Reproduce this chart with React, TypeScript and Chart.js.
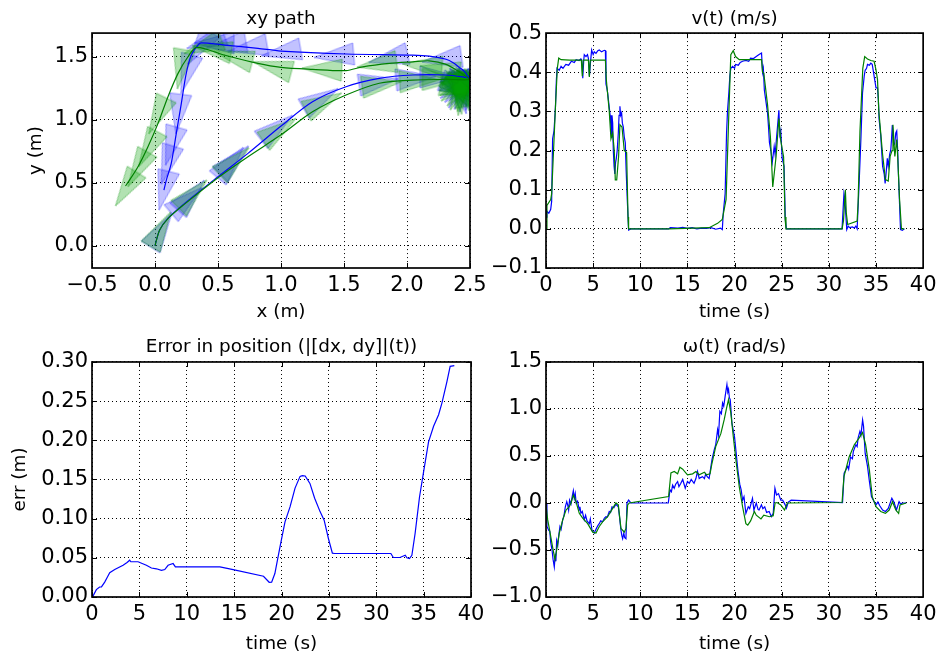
import React, { useEffect, useRef } from 'react';
import { Chart, registerables } from 'chart.js';
Chart.register(...registerables);

const W = 941;
const H = 655;
const FONT = "'DejaVu Sans', sans-serif";

// ---------- tick values ----------
const xyXTicks = [-0.5, 0, 0.5, 1, 1.5, 2, 2.5];
const xyYTicks = [0, 0.5, 1, 1.5];
const timeTicks = [0, 5, 10, 15, 20, 25, 30, 35, 40];
const vTicks = [-0.1, 0, 0.1, 0.2, 0.3, 0.4, 0.5];
const errTicks = [0, 0.05, 0.1, 0.15, 0.2, 0.25, 0.3];
const wTicks = [-1, -0.5, 0, 0.5, 1, 1.5];

// ---------- xy path (m) ----------
const blueXY = [[0,0],[0.037,0.125],[0.103,0.217],[0.235,0.336],[0.5,0.548],[0.738,0.733],[1.0,0.95],[1.25,1.143],[1.516,1.262],[1.78,1.328],[2.045,1.355],[2.31,1.355],[2.48,1.335],[2.5,1.33],[2.48,1.35],[2.45,1.39],[2.415,1.415],[2.37,1.45],[2.31,1.48],[2.177,1.505],[2.045,1.513],[1.516,1.522],[1.0,1.545],[0.817,1.567],[0.552,1.593],[0.367,1.611],[0.341,1.593],[0.288,1.513],[0.248,1.368],[0.209,1.13],[0.169,0.892],[0.129,0.654],[0.09,0.521],[0.071,0.442]];
const greenXY = [[0,0],[0.037,0.125],[0.103,0.215],[0.235,0.33],[0.5,0.54],[0.738,0.707],[1.0,0.88],[1.25,1.063],[1.516,1.196],[1.78,1.29],[2.045,1.315],[2.31,1.32],[2.5,1.32],[2.46,1.35],[2.415,1.38],[2.31,1.44],[2.177,1.468],[2.045,1.46],[1.86,1.447],[1.648,1.42],[1.516,1.39],[1.25,1.40],[1.0,1.416],[0.817,1.447],[0.552,1.513],[0.33,1.575],[0.262,1.5],[0.183,1.368],[0.103,1.183],[0.024,0.971],[-0.056,0.786],[-0.135,0.627],[-0.228,0.482],[-0.235,0.475]];
// pose markers: [x, y, heading deg]
const blueArrows = [[0.05,0.125,58],[0.25,0.36,40],[0.288,0.40,49],[0.60,0.66,50],[0.63,0.68,45],[0.967,0.938,38],[1.317,1.168,30],[1.776,1.30,9],[2.07,1.33,5],[2.26,1.34,0],[2.42,1.26,-20],[2.43,1.24,-50],[2.44,1.23,-80],[2.43,1.23,-110],[2.42,1.24,-140],[2.41,1.26,-170],[2.42,1.28,160],[2.44,1.29,130],[2.43,1.21,-60],[2.42,1.22,-90],[2.41,1.23,-120],[2.44,1.25,-30],[2.40,1.25,-150],[2.43,1.20,-75],[2.276,1.48,188],[1.85,1.49,193],[1.419,1.508,185],[1.0,1.535,190],[0.733,1.569,190],[0.566,1.593,190],[0.47,1.61,180],[0.40,1.62,200],[0.35,1.57,235],[0.25,1.36,-106],[0.185,1.045,-97],[0.127,0.79,-106],[0.096,0.64,-107],[0.07,0.436,-104]];
const greenArrows = [[0.045,0.13,60],[0.30,0.41,45],[0.63,0.67,43],[0.99,0.92,35],[1.34,1.14,27],[1.80,1.28,8],[2.10,1.31,3],[2.28,1.32,0],[2.42,1.25,-10],[2.43,1.23,-40],[2.44,1.22,-70],[2.43,1.22,-100],[2.42,1.23,-130],[2.41,1.25,-160],[2.42,1.27,170],[2.43,1.28,140],[2.44,1.26,100],[2.42,1.20,-85],[2.43,1.21,-55],[2.41,1.22,-115],[2.40,1.24,-145],[2.44,1.24,-25],[2.42,1.19,-95],[2.26,1.40,170],[2.12,1.43,175],[1.76,1.44,188],[1.324,1.402,177],[0.93,1.42,165],[0.62,1.50,165],[0.45,1.56,170],[0.38,1.58,200],[0.205,1.40,-100],[0.02,1.03,-116],[-0.056,0.766,-118],[-0.138,0.607,-119],[-0.23,0.45,-122]];

// ---------- v(t) (m/s) ----------
const vRef = [[0,0],[0.1,0.06],[0.5,0.075],[0.6,0.09],[0.8,0.2],[1.0,0.31],[1.2,0.41],[1.35,0.436],[1.6,0.432],[2.5,0.431],[3.75,0.431],[3.85,0.39],[3.95,0.431],[4.5,0.431],[4.6,0.388],[4.7,0.431],[6.3,0.431],[6.4,0.38],[6.71,0.30],[6.89,0.23],[7.07,0.245],[7.24,0.20],[7.35,0.125],[7.5,0.125],[7.7,0.185],[7.84,0.266],[8.06,0.26],[8.3,0.20],[8.55,0.195],[8.7,0.03],[8.76,0],[13,0],[17.3,0.003],[18.2,0.014],[18.7,0.024],[18.9,0.05],[19.1,0.075],[19.4,0.30],[19.6,0.445],[19.86,0.455],[20.1,0.44],[20.5,0.432],[22.86,0.432],[22.97,0.40],[23.1,0.397],[23.5,0.316],[23.8,0.235],[24.05,0.107],[24.4,0.184],[24.7,0.282],[24.9,0.225],[25.2,0.184],[25.35,0.03],[25.45,0],[31.4,0],[31.55,0.02],[31.75,0.10],[31.85,0.04],[32.0,0.011],[33.0,0.02],[33.1,0.066],[33.3,0.25],[33.6,0.41],[33.8,0.44],[34.1,0.434],[34.45,0.43],[34.8,0.428],[35.0,0.406],[35.16,0.381],[35.3,0.30],[35.7,0.19],[36.0,0.126],[36.3,0.122],[36.5,0.185],[36.7,0.20],[36.8,0.266],[37.0,0.185],[37.2,0.228],[37.3,0.185],[37.5,0.075],[37.7,0],[38.0,0]];
const vMeas = [[0,0.03],[0.1,0.045],[0.3,0.04],[0.5,0.05],[0.6,0.07],[0.7,0.23],[0.85,0.25],[1.0,0.31],[1.1,0.38],[1.17,0.41],[1.4,0.405],[1.6,0.415],[1.8,0.41],[2.1,0.42],[2.4,0.418],[2.7,0.428],[3.0,0.425],[3.2,0.432],[3.5,0.43],[3.7,0.434],[3.8,0.43],[3.9,0.385],[4.0,0.43],[4.06,0.445],[4.24,0.44],[4.4,0.445],[4.5,0.435],[4.6,0.39],[4.7,0.42],[4.84,0.457],[5.0,0.445],[5.12,0.452],[5.3,0.448],[5.5,0.455],[5.65,0.457],[5.9,0.452],[6.18,0.456],[6.3,0.455],[6.36,0.37],[6.45,0.36],[6.54,0.347],[6.71,0.31],[6.8,0.29],[6.89,0.26],[6.95,0.235],[7.0,0.29],[7.07,0.27],[7.14,0.20],[7.22,0.16],[7.3,0.14],[7.38,0.17],[7.46,0.18],[7.55,0.2],[7.67,0.245],[7.75,0.29],[7.84,0.313],[7.92,0.29],[8.02,0.296],[8.1,0.27],[8.2,0.26],[8.3,0.235],[8.41,0.22],[8.5,0.15],[8.62,0.075],[8.76,-0.003],[9.0,0.0],[13.0,0.0],[13.2,0.003],[14.0,0.002],[14.5,0.004],[15.0,0.001],[15.5,0.003],[16.0,0.0],[16.5,0.002],[17.0,0.001],[17.5,0.003],[18.0,-0.001],[18.5,0.002],[18.7,-0.002],[18.8,0.04],[19.0,0.09],[19.15,0.245],[19.25,0.30],[19.4,0.35],[19.5,0.39],[19.6,0.41],[19.8,0.415],[20.0,0.41],[20.1,0.42],[20.4,0.418],[20.6,0.425],[20.85,0.428],[21.2,0.43],[21.5,0.428],[21.7,0.436],[22.0,0.435],[22.3,0.44],[22.6,0.445],[22.86,0.449],[22.97,0.40],[23.05,0.41],[23.16,0.354],[23.3,0.33],[23.5,0.295],[23.6,0.26],[23.7,0.22],[23.85,0.20],[24.0,0.17],[24.1,0.19],[24.2,0.21],[24.3,0.19],[24.4,0.218],[24.55,0.26],[24.7,0.303],[24.8,0.24],[24.9,0.25],[25.05,0.18],[25.25,0.16],[25.38,0.024],[25.5,0],[31.4,0],[31.5,0.0],[31.6,0.09],[31.7,0.075],[31.9,-0.002],[32.05,0.007],[32.2,0.003],[32.5,0.005],[32.7,0.002],[32.86,0.007],[33.0,0.0],[33.07,0.0],[33.2,0.11],[33.4,0.23],[33.57,0.347],[33.75,0.39],[33.85,0.405],[34.0,0.41],[34.1,0.42],[34.3,0.418],[34.45,0.423],[34.6,0.42],[34.8,0.39],[35.0,0.36],[35.16,0.36],[35.25,0.33],[35.33,0.28],[35.5,0.24],[35.6,0.20],[35.7,0.16],[35.87,0.14],[35.97,0.116],[36.1,0.15],[36.2,0.18],[36.3,0.16],[36.45,0.19],[36.57,0.202],[36.65,0.23],[36.73,0.265],[36.85,0.22],[36.98,0.216],[37.1,0.245],[37.2,0.25],[37.3,0.2],[37.35,0.16],[37.6,-0.002],[37.8,-0.004],[38.0,0.0]];

// ---------- position error (m) ----------
const errPts = [[0,0],[0.1,0.001],[0.46,0.0094],[0.8,0.0128],[1.0,0.013],[1.34,0.019],[1.6,0.025],[1.87,0.031],[2.4,0.035],[3.28,0.0405],[3.7,0.044],[3.98,0.047],[4.1,0.045],[4.86,0.045],[5.74,0.0405],[6.27,0.037],[6.8,0.036],[7.33,0.034],[7.68,0.035],[8.03,0.0405],[8.56,0.0427],[8.8,0.0384],[13.5,0.0384],[14.9,0.035],[18.1,0.0265],[18.7,0.0188],[18.96,0.019],[19.3,0.03],[19.84,0.064],[20.37,0.096],[20.9,0.115],[21.43,0.139],[21.96,0.154],[22.2,0.155],[22.5,0.1545],[23.0,0.145],[23.5,0.126],[24.07,0.109],[24.5,0.098],[24.95,0.0747],[25.37,0.056],[25.6,0.0555],[31.54,0.0555],[31.8,0.0504],[32.5,0.0504],[33.06,0.0533],[33.23,0.05],[33.5,0.049],[33.76,0.0533],[34.1,0.081],[34.57,0.128],[35.0,0.16],[35.52,0.198],[36.05,0.218],[36.58,0.2326],[36.93,0.2475],[37.46,0.275],[37.8,0.2945],[38.24,0.2953]];

// ---------- omega(t) (rad/s) ----------
const wRef = [[0,-0.02],[0.18,-0.18],[0.35,-0.27],[0.7,-0.47],[0.95,-0.6],[1.13,-0.5],[1.41,-0.32],[1.77,-0.18],[2.12,-0.075],[2.47,-0.04],[2.65,0],[2.9,0.085],[3.18,0.014],[3.53,-0.11],[3.89,-0.16],[4.42,-0.22],[4.95,-0.31],[5.3,-0.32],[5.65,-0.25],[6.0,-0.2],[6.54,-0.146],[7.07,-0.057],[7.42,0],[7.67,-0.02],[7.95,-0.27],[8.3,-0.31],[8.48,-0.27],[8.66,-0.02],[8.83,0],[13.0,0.068],[13.25,0.32],[13.6,0.335],[13.96,0.31],[14.2,0.38],[14.5,0.36],[15.0,0.30],[15.55,0.31],[15.9,0.335],[16.25,0.30],[16.8,0.327],[17.0,0.30],[17.4,0.31],[17.6,0.42],[18.0,0.6],[18.55,0.74],[18.9,0.886],[19.15,1.01],[19.36,1.10],[19.6,0.96],[19.86,0.71],[20.14,0.46],[20.5,0.17],[20.85,-0.04],[21.2,-0.22],[21.4,-0.235],[21.7,-0.19],[22.1,-0.09],[22.3,-0.13],[22.8,-0.17],[23.1,-0.13],[23.7,-0.146],[24.1,-0.135],[24.3,0],[24.5,0.005],[24.9,-0.02],[25.3,-0.075],[25.6,0],[31.4,0.005],[31.6,0.28],[32.15,0.49],[32.7,0.62],[33.2,0.69],[33.57,0.75],[33.9,0.62],[34.3,0.35],[34.6,0.068],[35.0,-0.04],[35.5,-0.09],[36.0,-0.11],[36.4,-0.075],[36.75,0.014],[37.1,-0.075],[37.4,-0.11],[37.55,-0.02],[38.2,0]];
const wMeas = [[0,0],[0.1,-0.25],[0.2,-0.27],[0.28,-0.29],[0.4,-0.3],[0.5,-0.42],[0.64,-0.5],[0.75,-0.6],[0.88,-0.68],[0.99,-0.54],[1.05,-0.62],[1.13,-0.4],[1.25,-0.45],[1.35,-0.35],[1.48,-0.25],[1.6,-0.28],[1.77,-0.18],[1.9,-0.14],[2.05,-0.04],[2.2,0.014],[2.3,-0.02],[2.4,-0.075],[2.5,0.03],[2.65,-0.01],[2.8,0.08],[2.9,0.13],[3.0,0.05],[3.1,0.1],[3.2,0.0],[3.35,0.02],[3.53,-0.075],[3.6,-0.04],[3.7,-0.11],[3.85,-0.09],[4.06,-0.18],[4.2,-0.13],[4.35,-0.19],[4.6,-0.22],[4.7,-0.17],[4.88,-0.29],[5.12,-0.32],[5.2,-0.3],[5.35,-0.27],[5.5,-0.24],[5.65,-0.22],[5.8,-0.19],[6.0,-0.2],[6.2,-0.16],[6.36,-0.146],[6.5,-0.15],[6.71,-0.09],[6.85,-0.1],[7.0,-0.04],[7.2,-0.05],[7.42,-0.014],[7.67,-0.04],[7.8,-0.15],[7.95,-0.29],[8.05,-0.35],[8.13,-0.38],[8.25,-0.32],[8.35,-0.37],[8.48,-0.38],[8.59,0],[8.76,0.03],[9.0,0.0],[12.97,0.0],[13.15,0.14],[13.3,0.12],[13.43,0.19],[13.6,0.157],[13.75,0.2],[13.96,0.228],[14.1,0.174],[14.3,0.21],[14.5,0.25],[14.77,0.157],[15.0,0.228],[15.2,0.21],[15.4,0.25],[15.7,0.21],[15.9,0.26],[16.07,0.335],[16.25,0.26],[16.4,0.27],[16.6,0.28],[16.8,0.26],[16.94,0.31],[17.1,0.28],[17.3,0.26],[17.6,0.46],[17.84,0.566],[18.0,0.62],[18.2,0.78],[18.3,0.72],[18.44,0.975],[18.6,0.95],[18.73,1.064],[18.85,1.03],[19.0,1.135],[19.19,1.26],[19.28,1.18],[19.36,1.21],[19.45,1.12],[19.54,1.1],[19.72,0.85],[20.0,0.7],[20.35,0.35],[20.55,0.2],[20.7,0.14],[20.85,0.03],[21.0,0.068],[21.2,-0.11],[21.45,-0.04],[21.6,-0.06],[21.9,0.05],[22.05,-0.075],[22.3,0],[22.5,-0.07],[22.6,-0.075],[22.85,-0.02],[23.0,-0.06],[23.2,-0.04],[23.4,-0.1],[23.67,-0.09],[23.9,-0.145],[24.1,-0.11],[24.28,0.157],[24.45,0.085],[24.66,0.1],[24.9,0.03],[25.1,0.03],[25.37,-0.02],[25.5,-0.055],[25.7,0.01],[26.0,0.03],[31.45,0.005],[31.62,0.316],[31.8,0.35],[32.0,0.39],[32.1,0.36],[32.3,0.49],[32.5,0.47],[32.6,0.55],[32.86,0.62],[33.0,0.6],[33.1,0.69],[33.29,0.76],[33.4,0.72],[33.58,0.883],[33.68,0.815],[33.85,0.53],[34.1,0.39],[34.28,0.245],[34.52,0.068],[34.8,0.014],[35.0,-0.02],[35.2,0.01],[35.4,-0.03],[35.7,-0.075],[36.0,-0.09],[36.3,-0.057],[36.68,0.05],[36.9,0.01],[37.17,-0.075],[37.45,0.014],[37.6,-0.01],[37.8,0.0],[38.2,0.0]];

// ---------- helpers ----------
const fmt = (v: number, d: number) => {
  const s = Math.abs(v).toFixed(d);
  return (v < -1e-9 ? '\u2212' : '') + s;
};
const toXY = (arr: number[][]) => arr.map(([x, y]) => ({ x, y }));

function makeTri(fill: string, stroke: string) {
  const L = 42, Wd = 24;
  const c = document.createElement('canvas');
  c.width = L; c.height = Wd;
  const g = c.getContext('2d')!;
  g.beginPath();
  g.moveTo(1, 1);
  g.lineTo(L - 1, Wd / 2);
  g.lineTo(1, Wd - 1);
  g.closePath();
  g.fillStyle = fill;
  g.fill();
  g.strokeStyle = stroke;
  g.lineWidth = 1;
  g.stroke();
  return c;
}

const framePlugin = {
  id: 'frame',
  afterDraw(chart: any) {
    const { ctx, chartArea: a, scales } = chart;
    const xs = scales.x, ys = scales.y;
    ctx.save();
    ctx.strokeStyle = '#000';
    ctx.lineWidth = 1;
    ctx.beginPath();
    xs.ticks.forEach((t: any) => {
      const p = Math.round(xs.getPixelForValue(t.value)) + 0.5;
      ctx.moveTo(p, a.bottom); ctx.lineTo(p, a.bottom - 5);
      ctx.moveTo(p, a.top); ctx.lineTo(p, a.top + 5);
    });
    ys.ticks.forEach((t: any) => {
      const p = Math.round(ys.getPixelForValue(t.value)) + 0.5;
      ctx.moveTo(a.left, p); ctx.lineTo(a.left + 5, p);
      ctx.moveTo(a.right, p); ctx.lineTo(a.right - 5, p);
    });
    ctx.stroke();
    ctx.lineWidth = 1.7;
    ctx.strokeRect(a.left, a.top, a.right - a.left, a.bottom - a.top);
    ctx.restore();
  },
};

type Geo = { padL: number; padT: number; padR: number; padB: number; yW: number; xH: number; tTop: number; tBot: number; yTitlePad: number; xTitlePad: number };

function makeOptions(g: Geo, title: string, xr: number[], yr: number[], xTicks: number[], yTicks: number[], xDec: number, yDec: number, xTitle: string, yTitle: string | null) {
  const tickFont = { size: 21, family: FONT };
  const labFont = { size: 18.4, family: FONT, lineHeight: 1.2 };
  return {
    responsive: false,
    animation: false,
    events: [],
    layout: { padding: { left: g.padL, top: g.padT, right: g.padR, bottom: g.padB } },
    plugins: {
      legend: { display: false },
      tooltip: { enabled: false },
      title: { display: true, text: title, fullSize: false, color: '#000', font: { size: 18.4, weight: 'normal', family: FONT, lineHeight: 1.2 }, padding: { top: g.tTop, bottom: g.tBot } },
    },
    scales: {
      x: {
        type: 'linear', position: 'bottom', min: xr[0], max: xr[1],
        afterBuildTicks: (s: any) => { s.ticks = xTicks.map((v) => ({ value: v })); },
        afterFit: (s: any) => { s.height = g.xH; },
        ticks: { callback: (v: number) => fmt(v, xDec), font: tickFont, color: '#000', padding: 4.5, autoSkip: false, maxRotation: 0, minRotation: 0 },
        grid: { color: '#000', lineWidth: 1, drawTicks: false },
        border: { display: false, dash: [1, 3] },
        title: { display: true, text: xTitle, color: '#000', font: labFont, padding: { top: 0, bottom: g.xTitlePad } },
      },
      y: {
        type: 'linear', position: 'left', min: yr[0], max: yr[1],
        afterBuildTicks: (s: any) => { s.ticks = yTicks.map((v) => ({ value: v })); },
        afterFit: (s: any) => { s.width = g.yW; },
        ticks: { callback: (v: number) => fmt(v, yDec), font: tickFont, color: '#000', padding: 4, autoSkip: false },
        grid: { color: '#000', lineWidth: 1, drawTicks: false },
        border: { display: false, dash: [1, 3] },
        title: yTitle ? { display: true, text: yTitle, color: '#000', font: labFont, padding: { top: g.yTitlePad, bottom: 0 } } : { display: false },
      },
    },
  };
}

const lineDs = (data: number[][], color: string, order: number, tension = 0) => ({
  type: 'scatter',
  data: toXY(data),
  showLine: true,
  borderColor: color,
  backgroundColor: color,
  borderWidth: 1.2,
  pointRadius: 0,
  tension,
  fill: false,
  order,
});

export default function App() {
  const r1 = useRef<HTMLCanvasElement>(null);
  const r2 = useRef<HTMLCanvasElement>(null);
  const r3 = useRef<HTMLCanvasElement>(null);
  const r4 = useRef<HTMLCanvasElement>(null);

  useEffect(() => {
    Chart.defaults.font.family = FONT;
    Chart.defaults.color = '#000';
    const blueTri = makeTri('rgba(0,0,255,0.24)', 'rgba(0,0,255,0.34)');
    const greenTri = makeTri('rgba(0,160,0,0.3)', 'rgba(0,140,0,0.36)');

    const gTL: Geo = { padL: 0, padT: 0, padR: 471, padB: 320, yW: 92, xH: 67, tTop: 8.0, tBot: 3.0, yTitlePad: 25.0, xTitlePad: 12.0 };
    const gTR: Geo = { padL: 470, padT: 0, padR: 17, padB: 320, yW: 76, xH: 67, tTop: 8.0, tBot: 3.0, yTitlePad: 0, xTitlePad: 12.0 };
    const gBL: Geo = { padL: 0, padT: 320, padR: 470, padB: 0, yW: 92, xH: 58, tTop: 16.0, tBot: 3.9, yTitlePad: 9.0, xTitlePad: 0 };
    const gBR: Geo = { padL: 470, padT: 320, padR: 17, padB: 0, yW: 76, xH: 58, tTop: 16.0, tBot: 3.9, yTitlePad: 0, xTitlePad: 0 };

    const arrowDs = (arr: number[][], img: HTMLCanvasElement, order: number) => ({
      type: 'scatter',
      data: arr.map(([x, y]) => ({ x, y })),
      pointStyle: img,
      pointRotation: arr.map((a) => -a[2]),
      pointRadius: 12,
      showLine: false,
      order,
    });

    const c1 = new Chart(r1.current!, {
      type: 'scatter',
      data: {
        datasets: [
          lineDs(greenXY, '#008000', 0, 0.3),
          lineDs(blueXY, '#0000ff', 1, 0.3),
          arrowDs(greenArrows, greenTri, 2),
          arrowDs(blueArrows, blueTri, 3),
        ] as any,
      },
      options: makeOptions(gTL, 'xy path', [-0.5, 2.5], [-0.177, 1.688], xyXTicks, xyYTicks, 1, 1, 'x (m)', 'y (m)') as any,
      plugins: [framePlugin],
    });
    const c2 = new Chart(r2.current!, {
      type: 'scatter',
      data: { datasets: [lineDs(vRef, '#008000', 0), lineDs(vMeas, '#0000ff', 1)] as any },
      options: makeOptions(gTR, 'v(t) (m/s)', [0, 40], [-0.1, 0.5], timeTicks, vTicks, 0, 1, 'time (s)', null) as any,
      plugins: [framePlugin],
    });
    const c3 = new Chart(r3.current!, {
      type: 'scatter',
      data: { datasets: [lineDs(errPts, '#0000ff', 0)] as any },
      options: makeOptions(gBL, 'Error in position (|[dx, dy]|(t))', [0, 40], [0, 0.3], timeTicks, errTicks, 0, 2, 'time (s)', 'err (m)') as any,
      plugins: [framePlugin],
    });
    const c4 = new Chart(r4.current!, {
      type: 'scatter',
      data: { datasets: [lineDs(wRef, '#008000', 0), lineDs(wMeas, '#0000ff', 1)] as any },
      options: makeOptions(gBR, '\u03c9(t) (rad/s)', [0, 40], [-1, 1.5], timeTicks, wTicks, 0, 1, 'time (s)', null) as any,
      plugins: [framePlugin],
    });
    return () => { c1.destroy(); c2.destroy(); c3.destroy(); c4.destroy(); };
  }, []);

  const cs: React.CSSProperties = { position: 'absolute', left: 0, top: 0, width: W, height: H };
  return (
    <div style={{ position: 'absolute', left: 0, top: 0, width: W, height: H, background: '#fff', overflow: 'hidden' }}>
      <canvas ref={r1} width={W} height={H} style={cs} />
      <canvas ref={r2} width={W} height={H} style={cs} />
      <canvas ref={r3} width={W} height={H} style={cs} />
      <canvas ref={r4} width={W} height={H} style={cs} />
    </div>
  );
}
